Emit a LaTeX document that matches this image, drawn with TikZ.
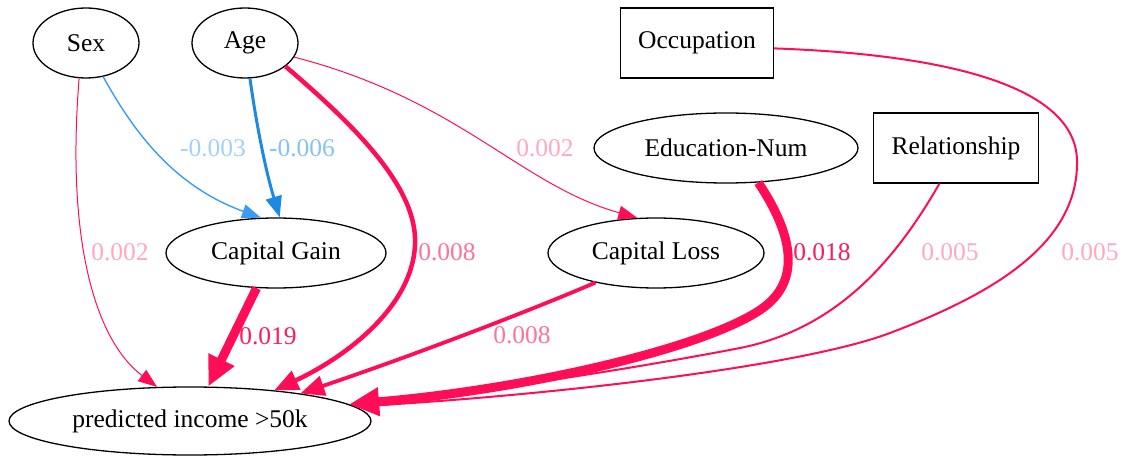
\documentclass[tikz,border=0pt]{standalone}
\usepackage{fontspec}
\setmainfont{Liberation Serif}
\usetikzlibrary{arrows.meta,shapes.geometric}
\definecolor{posred}{HTML}{FF0D57}
\definecolor{negblue}{HTML}{1E88E5}
\definecolor{negbluelt}{HTML}{3A9CF2}
\definecolor{lblpale}{HTML}{FFA9BE}
\definecolor{lblmid}{HTML}{FF7399}
\definecolor{lblstrong}{HTML}{FF1A60}
\definecolor{lblbluepale}{HTML}{A3D1FA}
\definecolor{lblblue}{HTML}{86C2F7}
\begin{document}
\begin{tikzpicture}[x=1pt,y=-1pt,
  txt/.style={font=\fontsize{25.5}{30}\selectfont},
  feat/.style={txt,draw=black,line width=1.3pt,ellipse,inner sep=0pt},
  featbox/.style={txt,draw=black,line width=1.3pt,rectangle,inner sep=0pt},
  wlabel/.style={txt,inner sep=0pt},
  posedge/.style={draw=posred,fill=none},
  negedge/.style={draw=negblue,fill=none},
  tipS/.style={-{Triangle[length=19pt,width=14pt]}},
  tipM/.style={-{Triangle[length=21pt,width=16pt]}},
  tipL/.style={-{Triangle[length=24pt,width=20pt]}},
  tipXL/.style={-{Triangle[length=30pt,width=27pt]}},
]
\useasboundingbox (0,0) rectangle (1124,457);

% feature nodes
\node[feat,minimum width=106pt,minimum height=70pt] (sex) at (86,43) {Sex};
\node[feat,minimum width=106pt,minimum height=70pt] (age) at (245,43) {Age};
\node[featbox,minimum width=153pt,minimum height=70pt] (occ) at (697,43) {Occupation};
\node[feat,minimum width=264pt,minimum height=70pt] (edu) at (726,148) {Education-Num};
\node[featbox,minimum width=165pt,minimum height=70pt] (rel) at (956,148) {Relationship};
\node[feat,minimum width=220pt,minimum height=70pt] (cg) at (276,253) {Capital Gain};
\node[feat,minimum width=216pt,minimum height=70pt] (cl) at (656,253) {Capital Loss};
\node[feat,minimum width=362pt,minimum height=68pt] (pred) at (190,421) {predicted income >50k};

% weighted edges
\draw[posedge,line width=1pt,tipS] (sex.259) .. controls (66,240) and (95,340) .. (pred.134);
\draw[draw=negbluelt,line width=1.4pt,tipS] (sex.297) .. controls (130,125) and (170,185) .. (cg.113);
\draw[negedge,line width=3pt,tipM] (age.278) .. controls (255,115) and (264,165) .. (cg.84);
\draw[posedge,line width=4.5pt,tipL] (age.330) .. controls (360,130) and (418,190) .. (415,245)
      .. controls (412,310) and (340,360) .. (pred.20);
\draw[posedge,line width=1pt,tipS] (age.344) .. controls (460,100) and (520,185) .. (cl.118);
\draw[posedge,line width=9pt,tipXL] (cg.241) -- (pred.62);
\draw[posedge,line width=3.8pt,tipL] (cl.206) .. controls (520,315) and (400,360) .. (pred.14);
\draw[posedge,line width=9pt,tipXL] (edu.313) .. controls (790,230) and (805,280) .. (760,310)
      .. controls (700,350) and (520,390) .. (pred.6);
\draw[posedge,line width=2pt,tipM] (rel.245) .. controls (890,270) and (830,330) .. (740,348)
      .. controls (600,375) and (450,395) .. (pred.5.5);
\draw[posedge,line width=2pt,tipM] (occ.356) .. controls (960,55) and (1075,90) .. (1077,160)
      .. controls (1079,245) and (990,295) .. (890,333)
      .. controls (800,367) and (550,395) .. (pred.5);

% edge weights
\node[wlabel,text=lblpale] (w1) at (120,252) {0.002};
\node[wlabel,text=lblbluepale] (w2) at (213,148) {-0.003};
\node[wlabel,text=lblblue] (w3) at (302,148) {-0.006};
\node[wlabel,text=lblpale] (w4) at (545,148) {0.002};
\node[wlabel,text=lblmid] (w5) at (447,252) {0.008};
\node[wlabel,text=lblstrong] (w6) at (268,336) {0.019};
\node[wlabel,text=lblmid] (w7) at (522,335) {0.008};
\node[wlabel,text=lblstrong] (w8) at (822,252) {0.018};
\node[wlabel,text=lblpale] (w9) at (950,252) {0.005};
\node[wlabel,text=lblpale] (w10) at (1090,252) {0.005};
\end{tikzpicture}
\end{document}
